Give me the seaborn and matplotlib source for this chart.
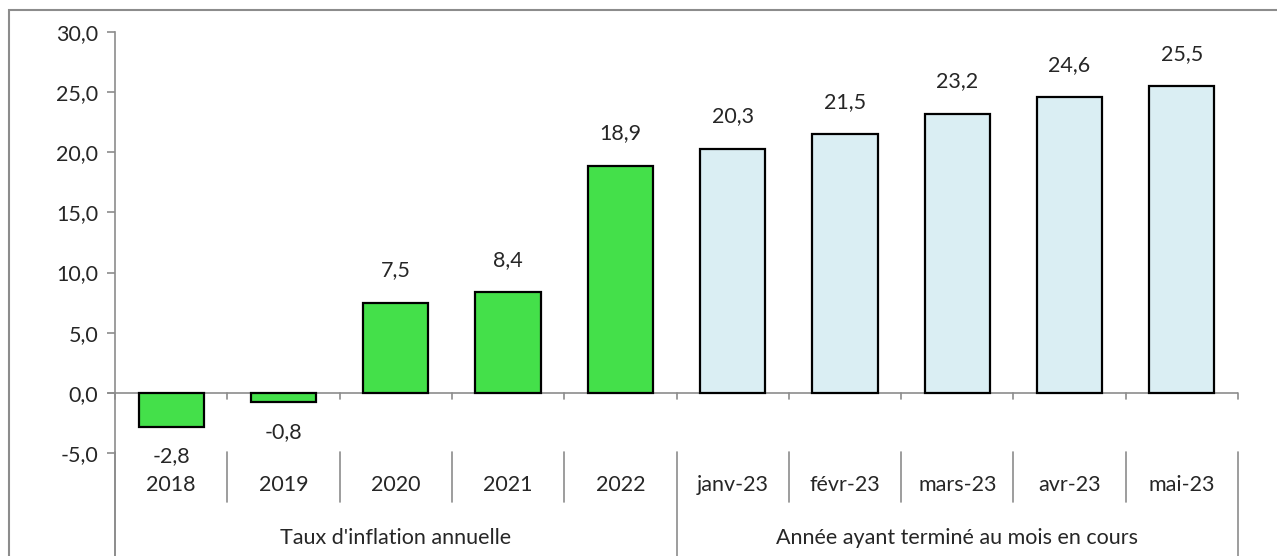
import matplotlib
matplotlib.use('Agg')
import matplotlib.pyplot as plt
from matplotlib.lines import Line2D
from matplotlib.patches import Rectangle
import seaborn as sns
import pandas as pd


categories = ['2018', '2019', '2020', '2021', '2022',
              'janv-23', 'févr-23', 'mars-23', 'avr-23', 'mai-23']
values = [-2.8, -0.8, 7.5, 8.4, 18.9, 20.3, 21.5, 23.2, 24.6, 25.5]
groups = ["Taux d'inflation annuelle"] * 5 + ['Année ayant terminé au mois en cours'] * 5
group_names = ["Taux d'inflation annuelle", 'Année ayant terminé au mois en cours']
group_colors = ['#44E04A', '#DAEEF3']

df = pd.DataFrame({'cat': categories, 'val': values, 'grp': groups})

sns.set_style('white')
plt.rcParams['font.family'] = ['Lato', 'DejaVu Sans']
grey = '#8C8C8C'
fs = 15.5

fig = plt.figure(figsize=(12.77, 5.56), dpi=100)
ax = fig.add_axes([115 / 1277, 1 - 453 / 556, 1123 / 1277, 421 / 556])

sns.barplot(data=df, x='cat', y='val', hue='grp', hue_order=group_names,
            palette=group_colors, saturation=1, dodge=False, width=0.58,
            edgecolor='black', linewidth=1.6, legend=False, ax=ax)

ax.set_xlim(-0.5, len(categories) - 0.5)
ax.set_ylim(-5, 30)
ax.set_yticks(range(-5, 31, 5))
ax.set_yticklabels([f'{v:.1f}'.replace('.', ',') for v in range(-5, 31, 5)], fontsize=fs)
ax.tick_params(axis='y', length=6, color=grey, width=1.2, left=True, pad=6)
ax.set_xticks([])
ax.set_xlabel('')
ax.set_ylabel('')
for s in ['top', 'right', 'bottom']:
    ax.spines[s].set_visible(False)
ax.spines['left'].set_color(grey)
ax.spines['left'].set_linewidth(1.2)

# zero line with category ticks
ax.axhline(0, color=grey, lw=1.2, zorder=0.5)
ax.plot([-0.5 - 0.06, -0.5], [0, 0], color=grey, lw=1.2, clip_on=False)
tr = ax.get_xaxis_transform()
for i in range(len(categories) + 1):
    x = i - 0.5
    ax.add_line(Line2D([x, x], [(453 - 393) / 421, (453 - 399) / 421], transform=tr,
                       color=grey, lw=1.2, clip_on=False))

# data labels
for i, v in enumerate(values):
    txt = f'{v:.1f}'.replace('.', ',')
    if v >= 0:
        ax.annotate(txt, (i, v), xytext=(0, 16), textcoords='offset points',
                    ha='center', va='bottom', fontsize=fs)
    else:
        ax.annotate(txt, (i, v), xytext=(0, -14), textcoords='offset points',
                    ha='center', va='top', fontsize=fs)

# multi-level category axis
for i, c in enumerate(categories):
    ax.text(i, (453 - 485) / 421, c, transform=tr, ha='center', va='center', fontsize=fs)
for i in range(1, len(categories)):
    if i == 5:
        continue
    x = i - 0.5
    ax.add_line(Line2D([x, x], [(453 - 452) / 421, (453 - 502) / 421], transform=tr,
                       color=grey, lw=1.2, clip_on=False))
for x in [-0.5, 4.5, 9.5]:
    ax.add_line(Line2D([x, x], [(453 - 452) / 421, -0.4], transform=tr,
                       color=grey, lw=1.2, clip_on=False))
ax.add_line(Line2D([-0.5, -0.5], [0, -0.4], transform=tr,
                   color=grey, lw=1.2, clip_on=False))
ax.text(2, (453 - 538) / 421, group_names[0], transform=tr, ha='center', va='center', fontsize=fs)
ax.text(7, (453 - 538) / 421, group_names[1], transform=tr, ha='center', va='center', fontsize=fs)

# outer chart frame
fig.patches.append(Rectangle((9 / 1277, -0.1), 1.2, 1 - 10 / 556 + 0.1,
                             transform=fig.transFigure, fill=False,
                             edgecolor=grey, lw=1.5))

fig.savefig('out.png', dpi=100)
